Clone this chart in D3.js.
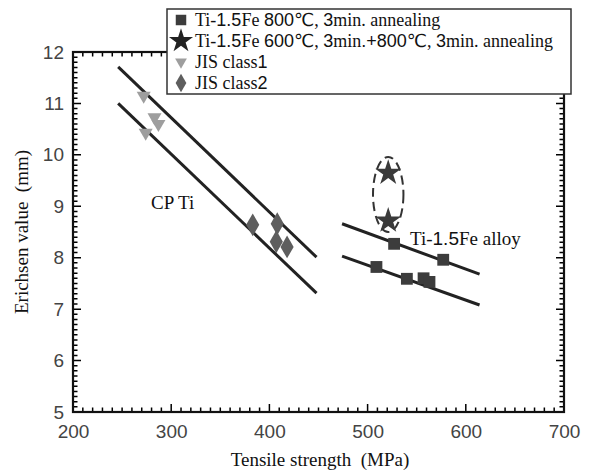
<!DOCTYPE html>
<html>
<head>
<meta charset="utf-8">
<script src="https://cdn.jsdelivr.net/npm/d3@7"></script>
<style>
  body { margin: 0; background: #fff; }
</style>
</head>
<body>
<div id="container"></div>
<script>
let w = 594;
let h = 474;

// data
let squareX = [509, 527, 540, 557, 563, 577];
let squareY = [7.82, 8.27, 7.59, 7.60, 7.53, 7.96];
let starX = [521, 521];
let starY = [9.65, 8.72];
let class1X = [272, 283, 287, 274];
let class1Y = [11.15, 10.73, 10.60, 10.43];
let class2X = [383, 408, 407, 418];
let class2Y = [8.64, 8.66, 8.31, 8.21];

// trend lines: [x0, y0, x1, y1]
let trendLines = [
  [246, 11.71, 448, 8.01],
  [246, 11.00, 448, 7.31],
  [474, 8.66, 614, 7.68],
  [474, 8.03, 614, 7.08]
];

let xTicks = [200, 300, 400, 500, 600, 700];
let yTicks = [5, 6, 7, 8, 9, 10, 11, 12];

let legendLabels = [
  "Ti-1.5Fe 800℃, 3min. annealing",
  "Ti-1.5Fe 600℃, 3min.+800℃, 3min. annealing",
  "JIS class1",
  "JIS class2"
];

let serif = "'Liberation Serif', 'DejaVu Serif', serif";
let sans = "'Liberation Sans', 'DejaVu Sans', sans-serif";

let viz = d3.select("#container")
  .append("svg")
    .attr("width", w)
    .attr("height", h)
    .style("background-color", "white");

let xScale = d3.scaleLinear().domain([200, 700]).range([73, 564]);
let yScale = d3.scaleLinear().domain([5, 12]).range([412, 52]);

// writes text with digits etc. in sans, the rest in serif
function mixedText(sel, str){
  let parts = str.match(/[0-9.℃+]+|[^0-9.℃+]+/g);
  parts.forEach(function(p){
    let isNum = /^[0-9.℃+]+$/.test(p) && p !== ".";
    sel.append("tspan")
      .style("font-family", isNum ? sans : serif)
      .text(p);
  });
}

// tick labels through d3 axes
let xg = viz.append("g")
  .attr("transform", "translate(0,412)")
  .call(d3.axisBottom(xScale).tickValues(xTicks).tickSize(0).tickPadding(13).tickFormat(d3.format("d")));
xg.select(".domain").remove();
xg.selectAll(".tick text")
  .attr("fill", "#444")
  .style("font-family", sans)
  .style("font-size", "19px");

let yg = viz.append("g")
  .attr("transform", "translate(73,0)")
  .call(d3.axisLeft(yScale).tickValues(yTicks).tickSize(0).tickPadding(9).tickFormat(d3.format("d")));
yg.select(".domain").remove();
yg.selectAll(".tick text")
  .attr("fill", "#444")
  .style("font-family", sans)
  .style("font-size", "19px");

// inward tick marks on all four sides
let xMinor = d3.range(200, 701, 10);
let yMinor = d3.range(50, 121, 1).map(function(d){ return d / 10; });

function xTickLen(v){ return v % 100 === 0 ? 8 : 4.5; }
function yTickLen(v){ return Math.abs(v - Math.round(v)) < 1e-6 ? 8 : 4.5; }

let tickPath = d3.path();
[412, 52].forEach(function(y0, side){
  let dir = side === 0 ? -1 : 1;
  xMinor.forEach(function(d){
    let x = xScale(d);
    tickPath.moveTo(x, y0);
    tickPath.lineTo(x, y0 + dir * xTickLen(d));
  });
});
[73, 564].forEach(function(x0, side){
  let dir = side === 0 ? 1 : -1;
  yMinor.forEach(function(d){
    let y = yScale(d);
    tickPath.moveTo(x0, y);
    tickPath.lineTo(x0 + dir * yTickLen(d), y);
  });
});
viz.append("path")
  .attr("d", tickPath.toString())
  .attr("fill", "none")
  .attr("stroke", "#000")
  .attr("stroke-width", 1.5);

// frame
viz.append("rect")
  .attr("x", xScale(200))
  .attr("y", yScale(12))
  .attr("width", xScale(700) - xScale(200))
  .attr("height", yScale(5) - yScale(12))
  .attr("fill", "none")
  .attr("stroke", "#111")
  .attr("stroke-width", 2.2);

// trend lines
viz.selectAll(".trend").data(trendLines).enter()
  .append("line")
    .attr("x1", function(d){ return xScale(d[0]); })
    .attr("y1", function(d){ return yScale(d[1]); })
    .attr("x2", function(d){ return xScale(d[2]); })
    .attr("y2", function(d){ return yScale(d[3]); })
    .attr("stroke", "#222")
    .attr("stroke-width", 3);

// dashed ellipse round the stars
viz.append("ellipse")
  .attr("cx", xScale(521))
  .attr("cy", yScale(9.23))
  .attr("rx", xScale(536.5) - xScale(521))
  .attr("ry", yScale(8.5) - yScale(9.23))
  .attr("fill", "none")
  .attr("stroke", "#333")
  .attr("stroke-width", 2)
  .attr("stroke-dasharray", "9,5");

function drawPoints(xs, ys, symbolType, size, color, rotate){
  let pts = xs.map(function(x, i){ return [x, ys[i]]; });
  viz.append("g").selectAll("path").data(pts).enter()
    .append("path")
      .attr("d", d3.symbol().type(symbolType).size(size))
      .attr("transform", function(d){
        return "translate(" + xScale(d[0]) + "," + yScale(d[1]) + ")" + (rotate ? " rotate(180)" : "");
      })
      .attr("fill", color);
}

drawPoints(class1X, class1Y, d3.symbolTriangle, 85, "#9e9e9e", true);
drawPoints(class2X, class2Y, d3.symbolDiamond, 150, "#5e5e5e", false);
drawPoints(squareX, squareY, d3.symbolSquare, 140, "#3c3c3c", false);
drawPoints(starX, starY, d3.symbolStar, 210, "#3a3a3a", false);

// annotations
mixedText(viz.append("text").attr("x", 151).attr("y", 209).style("font-size", "19px").attr("fill", "#111"), "CP Ti");
mixedText(viz.append("text").attr("x", 410).attr("y", 245).style("font-size", "19px").attr("fill", "#111"), "Ti-1.5Fe alloy");

// axis titles
mixedText(viz.append("text")
  .attr("x", 320).attr("y", 466)
  .attr("text-anchor", "middle")
  .style("font-size", "19px")
  .style("white-space", "pre")
  .attr("fill", "#111"), "Tensile strength  (MPa)");

mixedText(viz.append("text")
  .attr("transform", "translate(28,232) rotate(-90)")
  .attr("text-anchor", "middle")
  .style("font-size", "19px")
  .style("white-space", "pre")
  .attr("fill", "#111"), "Erichsen value  (mm)");

// legend
let legend = viz.append("g");
legend.append("rect")
  .attr("x", 167).attr("y", 9)
  .attr("width", 404).attr("height", 85)
  .attr("fill", "white")
  .attr("stroke", "#333")
  .attr("stroke-width", 1.5);

let legendSymbols = [
  [d3.symbolSquare, 110, "#3c3c3c", false],
  [d3.symbolStar, 180, "#222", false],
  [d3.symbolTriangle, 60, "#9e9e9e", true],
  [d3.symbolDiamond, 100, "#5e5e5e", false]
];
let legendRows = legendLabels.map(function(l, i){ return {label: l, sym: legendSymbols[i]}; });

let rows = legend.selectAll(".row").data(legendRows).enter()
  .append("g")
  .attr("transform", function(d, i){ return "translate(0," + (20 + i * 21) + ")"; });

rows.append("path")
  .attr("d", function(d){ return d3.symbol().type(d.sym[0]).size(d.sym[1])(); })
  .attr("transform", function(d){ return "translate(181,0)" + (d.sym[3] ? " rotate(180)" : ""); })
  .attr("fill", function(d){ return d.sym[2]; });

rows.each(function(d){
  let t = d3.select(this).append("text")
    .attr("x", 195).attr("y", 6)
    .style("font-size", "18px")
    .attr("fill", "#111");
  mixedText(t, d.label);
});
</script>
</body>
</html>
